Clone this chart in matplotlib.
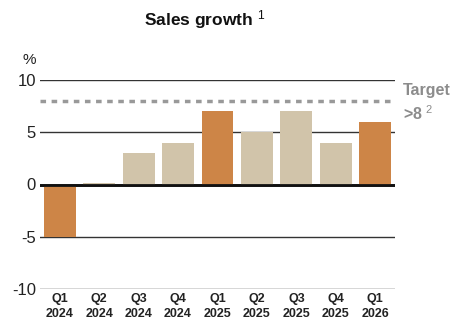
import matplotlib
matplotlib.use("Agg")
import matplotlib.pyplot as plt
import numpy as np

quarters = ["Q1\n2024", "Q2\n2024", "Q3\n2024", "Q4\n2024", "Q1\n2025",
            "Q2\n2025", "Q3\n2025", "Q4\n2025", "Q1\n2026"]
growth = [-5, 0.1, 3, 4, 7, 5, 7, 4, 6]
highlight = [True, False, False, False, True, False, False, False, True]
target = 8
y_ticks = [-10, -5, 0, 5, 10]

orange = "#CD8547"
beige = "#D1C4AA"
grey = "#8C8C8C"

plt.rcParams['font.family'] = ['Liberation Sans Narrow', 'Liberation Sans', 'DejaVu Sans']
plt.rcParams['mathtext.fontset'] = 'custom'
plt.rcParams['mathtext.rm'] = 'Liberation Sans'
plt.rcParams['mathtext.it'] = 'Liberation Sans'

fig = plt.figure(figsize=(4.54, 3.2), dpi=100)
ax = fig.add_axes([40 / 454, 1 - 289 / 320, 355 / 454, 209 / 320])

x = np.arange(len(quarters))
colors = [orange if h else beige for h in highlight]

for t in y_ticks:
    ax.axhline(t, color="#333333", lw=2.0 if t == 0 else 1.0, zorder=1)
ax.bar(x, growth, width=0.81, color=colors, zorder=2)
ax.axhline(0, color="#111111", lw=2.0, zorder=3)
ax.axhline(target, color="#999999", lw=2.5, ls=(0, (1.6, 1.6)), zorder=3)

ax.set_xlim(-0.5, 8.5)
ax.set_ylim(-10, 10)
ax.set_yticks(y_ticks)
ax.set_yticklabels([str(t) for t in y_ticks], fontsize=12, color="#222222")
ax.set_xticks(x)
ax.set_xticklabels(quarters, fontsize=9, fontweight="bold", color="#222222",
                   linespacing=1.35)
ax.tick_params(axis="both", length=0, pad=3)
for s in ax.spines.values():
    s.set_visible(False)

ax.text(-0.78, 11.2, "%", fontsize=11, color="#222222", ha="center", va="bottom")
ax.text(8.7, 8.3, "Target", fontsize=11.5, color=grey, fontweight="semibold",
        ha="left", va="bottom")
ax.text(8.7, 7.7, r">8 $^{\mathrm{2}}$", fontsize=11.5, color=grey, fontweight="semibold",
        ha="left", va="top")

fig.text(205 / 454, 1 - 20 / 320, r"Sales growth $^{\mathrm{1}}$", fontsize=12.5,
         fontweight="bold", ha="center", va="center", color="#111111")

fig.savefig("out.png", dpi=100)
